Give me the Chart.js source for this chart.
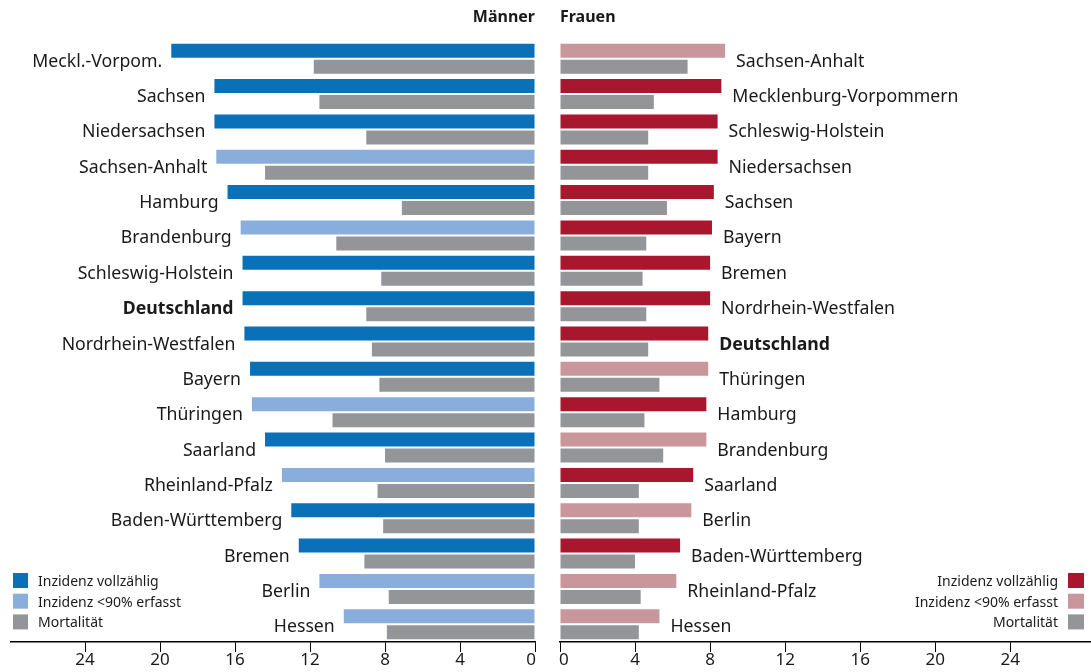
<!DOCTYPE html>
<html>
<head>
<meta charset="utf-8">
<script src="https://cdn.jsdelivr.net/npm/chart.js@4.4.0/dist/chart.umd.min.js"></script>
<style>
  body { margin: 0; background: #fff; }
  canvas { position: absolute; top: 0; }
  #men { left: 0; }
  #women { left: 548px; }
</style>
</head>
<body>
<canvas id="men" width="548" height="672"></canvas>
<canvas id="women" width="543" height="672"></canvas>
<script>
// Männer
const menLabels = ['Meckl.-Vorpom.', 'Sachsen', 'Niedersachsen', 'Sachsen-Anhalt', 'Hamburg', 'Brandenburg',
  'Schleswig-Holstein', 'Deutschland', 'Nordrhein-Westfalen', 'Bayern', 'Thüringen', 'Saarland',
  'Rheinland-Pfalz', 'Baden-Württemberg', 'Bremen', 'Berlin', 'Hessen'];
const menIncidence = [19.4, 17.1, 17.1, 17.0, 16.4, 15.7, 15.6, 15.6, 15.5, 15.2, 15.1, 14.4, 13.5, 13.0, 12.6, 11.5, 10.2];
const menMortality = [11.8, 11.5, 9.0, 14.4, 7.1, 10.6, 8.2, 9.0, 8.7, 8.3, 10.8, 8.0, 8.4, 8.1, 9.1, 7.8, 7.9];
const menComplete = [true, true, true, false, true, false, true, true, true, true, false, true, false, true, true, false, false];

// Frauen
const womenLabels = ['Sachsen-Anhalt', 'Mecklenburg-Vorpommern', 'Schleswig-Holstein', 'Niedersachsen', 'Sachsen',
  'Bayern', 'Bremen', 'Nordrhein-Westfalen', 'Deutschland', 'Thüringen', 'Hamburg', 'Brandenburg', 'Saarland',
  'Berlin', 'Baden-Württemberg', 'Rheinland-Pfalz', 'Hessen'];
const womenIncidence = [8.8, 8.6, 8.4, 8.4, 8.2, 8.1, 8.0, 8.0, 7.9, 7.9, 7.8, 7.8, 7.1, 7.0, 6.4, 6.2, 5.3];
const womenMortality = [6.8, 5.0, 4.7, 4.7, 5.7, 4.6, 4.4, 4.6, 4.7, 5.3, 4.5, 5.5, 4.2, 4.2, 4.0, 4.3, 4.2];
const womenComplete = [false, true, true, true, true, true, true, true, true, false, true, false, true, false, true, false, false];

const tickValues = [0, 4, 8, 12, 16, 20, 24];
const legendTexts = ['Inzidenz vollzählig', 'Inzidenz <90% erfasst', 'Mortalität'];

const FONT = "'Noto Sans', sans-serif";
const TEXT = '#1a1a1a';
const GRAY = '#939598';

Chart.defaults.font.family = FONT;

// Beschriftungen, Titel, Achsenzahlen und Legende selbst zeichnen
const decoPlugin = {
  id: 'deco',
  afterDraw(chart, args, opts) {
    const ctx = chart.ctx;
    const left = opts.side === 'left';
    const m0 = chart.getDatasetMeta(0).data;
    const m1 = chart.getDatasetMeta(1).data;
    const x = chart.scales.x;
    ctx.save();
    ctx.fillStyle = TEXT;
    ctx.textBaseline = 'alphabetic';

    // Ländernamen an den Balkenenden
    chart.data.labels.forEach((name, i) => {
      const yc = (m0[i].y + m1[i].y) / 2;
      ctx.font = (name === 'Deutschland' ? 'bold ' : '') + '17.7px ' + FONT;
      if (left) {
        ctx.textAlign = 'right';
        ctx.fillText(name, Math.min(m0[i].x, m1[i].x) - 9, yc + 8);
      } else {
        ctx.textAlign = 'left';
        ctx.fillText(name, Math.max(m0[i].x, m1[i].x) + 11, yc + 8);
      }
    });

    // Titel
    ctx.font = 'bold 16px ' + FONT;
    ctx.textAlign = left ? 'right' : 'left';
    ctx.fillText(opts.title, left ? chart.chartArea.right : chart.chartArea.left, 22);

    // Achsenzahlen
    ctx.font = '17px ' + FONT;
    tickValues.forEach(v => {
      const px = x.getPixelForValue(v);
      if (v === 0) ctx.textAlign = left ? 'right' : 'left';
      else ctx.textAlign = 'center';
      ctx.fillText(String(v), v === 0 ? (left ? px + 1 : px - 1) : px, 665);
    });

    // Legende
    ctx.font = '14px ' + FONT;
    opts.legendColors.forEach((c, k) => {
      const y = 573 + k * 20.7;
      ctx.fillStyle = c;
      if (left) {
        ctx.fillRect(13, y, 15, 15);
        ctx.fillStyle = TEXT;
        ctx.textAlign = 'left';
        ctx.fillText(legendTexts[k], 38, y + 13);
      } else {
        ctx.fillRect(chart.width - 23, y, 16, 15);
        ctx.fillStyle = TEXT;
        ctx.textAlign = 'right';
        ctx.fillText(legendTexts[k], chart.width - 33, y + 13);
      }
    });
    ctx.restore();
  }
};

function makeChart(id, labels, incidence, mortality, complete, side) {
  const left = side === 'left';
  const dark = left ? '#0a71b9' : '#a9172f';
  const light = left ? '#8aaedb' : '#c9969b';
  return new Chart(document.getElementById(id), {
    type: 'bar',
    data: {
      labels: labels,
      datasets: [{
        label: 'Inzidenz',
        data: incidence,
        backgroundColor: complete.map(c => c ? dark : light),
        categoryPercentage: 0.905,
        barPercentage: 0.875
      }, {
        label: 'Mortalität',
        data: mortality,
        backgroundColor: GRAY,
        categoryPercentage: 0.905,
        barPercentage: 0.875
      }]
    },
    options: {
      indexAxis: 'y',
      responsive: false,
      animation: false,
      layout: {
        padding: left ? { left: 11, right: 13, top: 41, bottom: 20 } : { left: 12, right: 0, top: 41, bottom: 20 }
      },
      plugins: {
        legend: { display: false },
        tooltip: { enabled: false },
        deco: {
          side: side,
          title: left ? 'Männer' : 'Frauen',
          legendColors: [dark, light, GRAY]
        }
      },
      scales: {
        x: {
          reverse: left,
          min: 0,
          max: left ? 27.95 : 28.3,
          ticks: { display: false, stepSize: 4, includeBounds: false },
          afterBuildTicks: s => { s.ticks = s.ticks.filter(t => t.value <= 24); },
          grid: { drawOnChartArea: false, drawTicks: true, tickLength: 10, color: '#000', lineWidth: 1 },
          border: { display: true, color: '#000', width: 1.4 }
        },
        y: { display: false }
      }
    },
    plugins: [decoPlugin]
  });
}

makeChart('men', menLabels, menIncidence, menMortality, menComplete, 'left');
makeChart('women', womenLabels, womenIncidence, womenMortality, womenComplete, 'right');
</script>
</body>
</html>
